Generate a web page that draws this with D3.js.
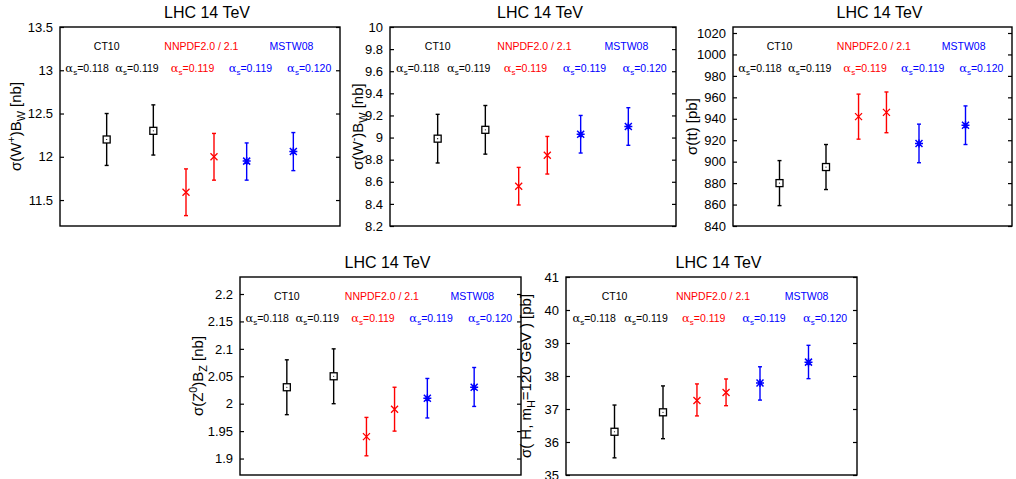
<!DOCTYPE html>
<html>
<head>
  <meta charset="UTF-8">
  <title>LHC 14 TeV cross sections vs PDF sets</title>
  <style>
    body { margin: 0; background: #fff; }
    svg { font-family: "Liberation Sans", Arial, Helvetica, sans-serif; }
    .tick text { font-family: "Liberation Sans", Arial, sans-serif; font-size: 13px; fill: #000; }
    .title { font-size: 16px; }
    .ylab { font-size: 15px; }
    .set { font-size: 10.5px; }
    .alpha { font-size: 10.5px; }
  </style>
</head>
<body>
  <svg></svg>
  <script src="https://d3js.org/d3.v7.min.js"></script>
  <script>
    // x position of each prediction (CT10 x2, NNPDF x2, MSTW08 x2)
    const xPos = [1, 2, 2.7, 3.3, 4, 5];
    const pointColors = ["#000", "#000", "#f00", "#f00", "#00f", "#00f"];
    const markers = ["square", "square", "cross", "cross", "star", "star"];

    // PDF set names and alpha_s labels in the top of each panel
    const setNames = ["CT10", "NNPDF2.0 / 2.1", "MSTW08"];
    const setNameX = [1, 3.03, 4.96];
    const setColors = ["#000", "#f00", "#00f"];
    const alphaValues = ["0.118", "0.119", "0.119", "0.119", "0.120"];
    const alphaX = [0.58, 1.65, 2.84, 4.08, 5.34];
    const alphaColors = ["#000", "#000", "#f00", "#00f", "#00f"];

    // sigma(W+) B_W [nb]
    const wpCenter = [12.20, 12.30, 11.59, 12.00, 11.95, 12.06];
    const wpHigh   = [12.50, 12.60, 11.86, 12.27, 12.16, 12.28];
    const wpLow    = [11.90, 12.02, 11.32, 11.73, 11.73, 11.84];
    const wpTicks  = [11.5, 12, 12.5, 13, 13.5];

    // sigma(W-) B_W [nb]
    const wmCenter = [8.99, 9.07, 8.56, 8.84, 9.03, 9.10];
    const wmHigh   = [9.21, 9.29, 8.73, 9.01, 9.20, 9.27];
    const wmLow    = [8.77, 8.85, 8.39, 8.67, 8.86, 8.93];
    const wmTicks  = [8.2, 8.4, 8.6, 8.8, 9, 9.2, 9.4, 9.6, 9.8, 10];

    // sigma(ttbar) [pb]
    const ttCenter = [880, 895, 942, 946, 917, 934];
    const ttHigh   = [901, 916, 963, 965, 935, 952];
    const ttLow    = [859, 874, 921, 927, 899, 916];
    const ttTicks  = [840, 860, 880, 900, 920, 940, 960, 980, 1000, 1020];

    // sigma(Z0) B_Z [nb]
    const zCenter = [2.03, 2.05, 1.94, 1.99, 2.01, 2.03];
    const zHigh   = [2.08, 2.10, 1.975, 2.03, 2.046, 2.066];
    const zLow    = [1.98, 2.00, 1.905, 1.95, 1.974, 1.995];
    const zTicks  = [1.9, 1.95, 2, 2.05, 2.1, 2.15, 2.2];

    // sigma(H, mH = 120 GeV) [pb]
    const hCenter = [36.31, 36.90, 37.26, 37.50, 37.79, 38.42];
    const hHigh   = [37.12, 37.70, 37.76, 37.91, 38.28, 38.93];
    const hLow    = [35.52, 36.10, 36.79, 37.10, 37.27, 37.92];
    const hTicks  = [35, 36, 37, 38, 39, 40, 41];

    const width = 1016, height = 479;
    const svg = d3.select("svg").attr("width", width).attr("height", height);

    // frame box, y range, label for each panel
    const panels = [
      { box: [60, 27, 340, 226], yDom: [11.2, 13.5], ticks: wpTicks, c: wpCenter, hi: wpHigh, lo: wpLow,
        lab: ["σ(W", ["+", "sup"], ")B", ["W", "sub"], " [nb]"], labX: 21 },
      { box: [390, 27, 676, 226], yDom: [8.2, 10], ticks: wmTicks, c: wmCenter, hi: wmHigh, lo: wmLow,
        lab: ["σ(W", ["-", "sup"], ")B", ["W", "sub"], " [nb]"], labX: 363 },
      { box: [733, 27, 1012, 226], yDom: [840, 1025.6], ticks: ttTicks, c: ttCenter, hi: ttHigh, lo: ttLow,
        lab: ["σ(tt) [pb]"], labX: 697 },
      { box: [240, 277, 521, 475], yDom: [1.87, 2.231], ticks: zTicks, c: zCenter, hi: zHigh, lo: zLow,
        lab: ["σ(Z", ["0", "sup"], ")B", ["Z", "sub"], " [nb]"], labX: 203 },
      { box: [566, 277, 857, 475], yDom: [35, 41], ticks: hTicks, c: hCenter, hi: hHigh, lo: hLow,
        lab: ["σ( H, m", ["H", "sub"], "=120 GeV ) [pb]"], labX: 531 }
    ];

    // text with super/subscripts: the shift is undone on the next plain part
    function addRich(textSel, parts) {
      let back = 0;
      parts.forEach(p => {
        if (typeof p === "string") {
          textSel.append("tspan").attr("dy", back).text(p);
          back = 0;
        } else {
          const d = p[1] === "sup" ? -6 : 4;
          textSel.append("tspan").attr("font-size", "0.72em").attr("dy", back + d).text(p[0]);
          back = -d;
        }
      });
    }

    panels.forEach(p => {
      const [x0, y0, x1, y1] = p.box;
      const g = svg.append("g");
      const x = d3.scaleLinear().domain([0, 6]).range([x0, x1]);
      const y = d3.scaleLinear().domain(p.yDom).range([y1, y0]);

      // left axis with tick labels, ticks pointing inwards
      g.append("g")
        .attr("transform", `translate(${x0},0)`)
        .call(d3.axisLeft(y).tickValues(p.ticks).tickSize(-4).tickPadding(7).tickFormat(d => String(+d.toFixed(3))))
        .call(a => a.select(".domain").remove())
        .call(a => a.selectAll("line").attr("stroke", "#000").attr("stroke-width", 1.2));
      // right axis ticks only
      g.append("g")
        .attr("transform", `translate(${x1},0)`)
        .call(d3.axisRight(y).tickValues(p.ticks).tickSize(-4).tickFormat(""))
        .call(a => a.select(".domain").remove())
        .call(a => a.selectAll("line").attr("stroke", "#000").attr("stroke-width", 1.2));

      g.append("rect")
        .attr("x", x0).attr("y", y0).attr("width", x1 - x0).attr("height", y1 - y0)
        .attr("fill", "none").attr("stroke", "#000").attr("stroke-width", 1.4);

      g.append("text").attr("class", "title")
        .attr("x", (x0 + x1) / 2 + 7).attr("y", y0 - 9)
        .attr("text-anchor", "middle").text("LHC 14 TeV");

      const yl = g.append("text").attr("class", "ylab")
        .attr("text-anchor", "middle")
        .attr("transform", `translate(${p.labX},${(y0 + y1) / 2}) rotate(-90)`);
      addRich(yl, p.lab);

      // set names and alpha_s labels
      g.selectAll(".set").data(setNames).enter().append("text")
        .attr("class", "set")
        .attr("x", (d, i) => x(setNameX[i])).attr("y", y0 + 23)
        .attr("text-anchor", "middle")
        .attr("fill", (d, i) => setColors[i])
        .text(d => d);
      alphaValues.forEach((v, i) => {
        const t = g.append("text").attr("class", "alpha")
          .attr("x", x(alphaX[i])).attr("y", y0 + 45)
          .attr("text-anchor", "middle").attr("fill", alphaColors[i]);
        t.append("tspan").attr("font-family", "'DejaVu Serif', serif").attr("font-size", "11.5px").text("α");
        t.append("tspan").attr("font-size", "8px").attr("dy", "3").text("s");
        t.append("tspan").attr("dy", "-3").text("=" + v);
      });

      // error bars and markers
      xPos.forEach((xv, i) => {
        const cx = x(xv), cy = y(p.c[i]), col = pointColors[i];
        const hiY = y(p.hi[i]), loY = y(p.lo[i]);
        const eb = g.append("g").attr("stroke", col).attr("stroke-width", 1.4).attr("fill", "none");
        eb.append("line").attr("x1", cx).attr("x2", cx).attr("y1", hiY).attr("y2", loY);
        eb.append("line").attr("x1", cx - 2).attr("x2", cx + 2).attr("y1", hiY).attr("y2", hiY);
        eb.append("line").attr("x1", cx - 2).attr("x2", cx + 2).attr("y1", loY).attr("y2", loY);
        const s = 3.5;
        if (markers[i] === "square") {
          eb.append("rect").attr("x", cx - s).attr("y", cy - s).attr("width", 2 * s).attr("height", 2 * s)
            .attr("fill", "#fff").attr("stroke-width", 1.3);
          eb.append("circle").attr("cx", cx).attr("cy", cy).attr("r", 0.6).attr("fill", col).attr("stroke", "none");
        } else if (markers[i] === "cross") {
          eb.append("path").attr("d", `M${cx - s},${cy - s}L${cx + s},${cy + s}M${cx - s},${cy + s}L${cx + s},${cy - s}`)
            .attr("stroke-width", 1.3);
        } else {
          eb.append("path").attr("d",
            `M${cx - s},${cy - s}L${cx + s},${cy + s}M${cx - s},${cy + s}L${cx + s},${cy - s}` +
            `M${cx - s - 0.5},${cy}L${cx + s + 0.5},${cy}M${cx},${cy - s - 0.5}L${cx},${cy + s + 0.5}`)
            .attr("stroke-width", 1.5);
        }
      });
    });
  </script>
</body>
</html>
